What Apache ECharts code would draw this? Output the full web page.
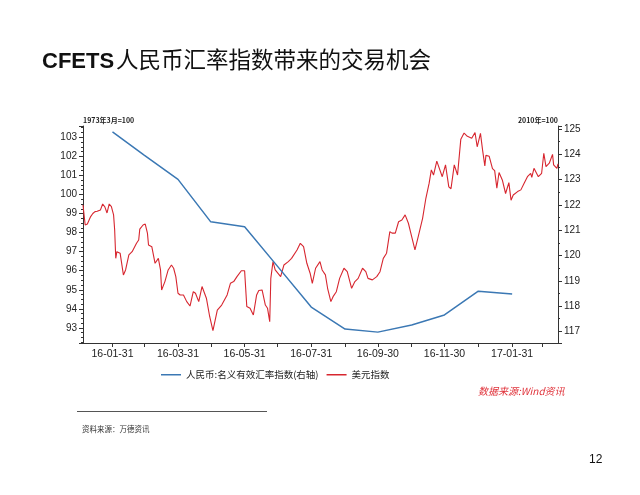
<!DOCTYPE html>
<html><head><meta charset="utf-8">
<script src="https://cdn.jsdelivr.net/npm/echarts@6/dist/echarts.min.js"></script>
<style>html,body{margin:0;padding:0;background:#fff}#c{width:640px;height:495px}</style>
</head><body><div id="c"></div>
<script>
// ---- data ----
const axisStart = '2016-01-04';
const axisEnd = '2017-03-14';
const usdDates = ['2016-01-04','2016-01-05','2016-01-06','2016-01-08','2016-01-11','2016-01-13','2016-01-15','2016-01-17','2016-01-20','2016-01-22','2016-01-24','2016-01-26','2016-01-28','2016-01-30','2016-02-01','2016-02-02','2016-02-03','2016-02-04','2016-02-07','2016-02-10','2016-02-12','2016-02-15','2016-02-18','2016-02-19','2016-02-22','2016-02-24','2016-02-25','2016-02-28','2016-03-01','2016-03-03','2016-03-04','2016-03-07','2016-03-10','2016-03-13','2016-03-15','2016-03-16','2016-03-19','2016-03-22','2016-03-25','2016-03-27','2016-03-29','2016-03-31','2016-04-02','2016-04-05','2016-04-08','2016-04-11','2016-04-14','2016-04-16','2016-04-19','2016-04-22','2016-04-26','2016-04-29','2016-05-02','2016-05-06','2016-05-10','2016-05-15','2016-05-18','2016-05-21','2016-05-24','2016-05-28','2016-05-31','2016-06-02','2016-06-05','2016-06-08','2016-06-11','2016-06-13','2016-06-16','2016-06-19','2016-06-21','2016-06-23','2016-06-24','2016-06-26','2016-06-28','2016-07-03','2016-07-06','2016-07-10','2016-07-13','2016-07-18','2016-07-21','2016-07-24','2016-07-27','2016-07-30','2016-08-01','2016-08-04','2016-08-08','2016-08-10','2016-08-13','2016-08-15','2016-08-18','2016-08-20','2016-08-23','2016-08-26','2016-08-30','2016-09-02','2016-09-06','2016-09-09','2016-09-12','2016-09-16','2016-09-19','2016-09-21','2016-09-25','2016-09-29','2016-10-02','2016-10-05','2016-10-08','2016-10-11','2016-10-13','2016-10-16','2016-10-19','2016-10-22','2016-10-25','2016-10-28','2016-10-31','2016-11-03','2016-11-06','2016-11-10','2016-11-13','2016-11-16','2016-11-18','2016-11-20','2016-11-23','2016-11-28','2016-12-01','2016-12-04','2016-12-06','2016-12-09','2016-12-12','2016-12-15','2016-12-18','2016-12-21','2016-12-25','2016-12-28','2016-12-30','2017-01-02','2017-01-04','2017-01-06','2017-01-07','2017-01-10','2017-01-13','2017-01-15','2017-01-17','2017-01-19','2017-01-22','2017-01-25','2017-01-28','2017-01-30','2017-02-01','2017-02-05','2017-02-08','2017-02-11','2017-02-14','2017-02-17','2017-02-18','2017-02-20','2017-02-24','2017-02-27','2017-03-01','2017-03-03','2017-03-06','2017-03-09','2017-03-10','2017-03-13','2017-03-14'];
const usdValues = [99.45,99.35,98.4,98.45,98.84,99.0,99.1,99.12,99.19,99.5,99.35,99.03,99.5,99.36,98.93,98.14,96.65,97.0,96.92,95.78,96.04,96.83,97.0,96.9,97.44,97.61,98.18,98.4,98.45,97.97,97.35,97.26,96.39,96.65,96.04,94.99,95.43,96.04,96.3,96.13,95.69,94.82,94.73,94.73,94.38,94.15,94.9,94.82,94.38,95.17,94.56,93.6,92.86,93.94,94.2,94.73,95.34,95.43,95.69,96.0,96.0,94.12,94.03,93.68,94.73,94.96,94.99,94.2,94.03,93.33,95.6,96.48,96.04,95.69,96.3,96.48,96.65,97.09,97.44,97.26,96.39,95.87,95.34,96.13,96.48,96.04,95.78,95.08,94.38,94.64,94.9,95.6,96.13,95.95,95.08,95.43,95.6,96.13,95.95,95.6,95.52,95.69,95.95,96.65,96.92,98.05,97.97,97.97,98.57,98.66,98.93,98.49,97.79,97.09,97.79,98.75,99.8,100.59,101.29,101.02,101.75,100.93,101.55,100.4,100.3,101.55,101.02,102.9,103.22,103.05,102.95,103.25,102.5,103.2,102.3,101.5,102.05,102.0,101.36,101.25,100.33,101.15,100.76,100.05,100.62,99.7,99.97,100.15,100.24,100.59,100.93,101.11,100.9,101.37,100.93,101.11,102.16,101.46,101.64,102.1,101.55,101.37,101.6];
const cnyDates = ['2016-01-31','2016-02-29','2016-03-31','2016-04-30','2016-05-31','2016-06-30','2016-07-31','2016-08-31','2016-09-30','2016-10-31','2016-11-30','2016-12-31','2017-01-31'];
const cnyValues = [124.89,123.97,123.01,121.33,121.14,119.58,117.96,117.09,116.97,117.25,117.65,118.59,118.48];
const seriesNames = ['人民币:名义有效汇率指数(右轴)', '美元指数'];
const leftAxisName = '1973年3月=100';
const rightAxisName = '2010年=100';
const leftRange = [92.21, 103.59];
const rightRange = [116.54, 125.12];

// ---- build axis categories (calendar days) ----
const categories = [];
(function(){
  const p = s => { const a = s.split('-').map(Number); return Date.UTC(a[0], a[1]-1, a[2]); };
  for (let t = p(axisStart); t <= p(axisEnd); t += 86400000) categories.push(new Date(t).toISOString().slice(0,10));
})();
function isMonthEnd(s){
  const a = s.split('-').map(Number);
  const n = new Date(Date.UTC(a[0], a[1]-1, a[2]) + 86400000);
  return n.getUTCMonth() !== a[1]-1;
}
function toSeries(dates, vals){
  const m = {}; dates.forEach((d,i)=>{ m[d] = vals[i]; });
  return categories.map(d => (d in m) ? m[d] : null);
}

const chart = echarts.init(document.getElementById('c'), null, {renderer:'canvas'});
const axisColor = '#333';
const labelFont = 'Liberation Sans, Arial, sans-serif';
chart.setOption({
  animation: false,
  backgroundColor: '#fff',
  grid: {left: 83, right: 82, top: 126, bottom: 152, containLabel: false},
  legend: {
    left: 156, top: 365, icon: 'rect', itemWidth: 20, itemHeight: 1.5, itemGap: 8,
    data: seriesNames,
    textStyle: {fontSize: 9.5, color: '#222', fontFamily: 'Noto Sans CJK SC'}
  },
  xAxis: {
    type: 'category', data: categories, boundaryGap: false,
    axisLine: {lineStyle: {color: axisColor, width: 1}},
    axisTick: {show: true, length: 4, interval: (i, v) => isMonthEnd(v), lineStyle: {color: axisColor}},
    axisLabel: {
      interval: (i, v) => isMonthEnd(v) && (Number(v.slice(5,7)) % 2 === 1),
      formatter: v => v.slice(2), fontSize: 10.5, color: '#222', fontFamily: labelFont, margin: 6
    },
    splitLine: {show: false}
  },
  yAxis: [
    {
      type: 'value', position: 'left', min: leftRange[0], max: leftRange[1], splitNumber: 11,
      name: leftAxisName, nameLocation: 'end', nameGap: 2,
      nameTextStyle: {fontSize: 7, color: '#222', align: 'left', fontFamily: 'Noto Sans CJK SC', fontWeight: 'bold'},
      axisLine: {show: true, lineStyle: {color: axisColor}},
      axisTick: {show: true, length: 4, lineStyle: {color: axisColor}},
      minorTick: {show: true, splitNumber: 4, length: 2, lineStyle: {color: axisColor}},
      axisLabel: {showMinLabel: false, showMaxLabel: false, formatter: v => Number.isInteger(v) ? String(v) : '', fontSize: 10, color: '#222', fontFamily: labelFont, margin: 6},
      splitLine: {show: false}
    },
    {
      type: 'value', position: 'right', min: rightRange[0], max: rightRange[1], splitNumber: 8,
      name: rightAxisName, nameLocation: 'end', nameGap: 2,
      nameTextStyle: {fontSize: 7, color: '#222', align: 'right', fontFamily: 'Noto Sans CJK SC', fontWeight: 'bold'},
      axisLine: {show: true, lineStyle: {color: axisColor}},
      axisTick: {show: true, length: 4, lineStyle: {color: axisColor}},
      minorTick: {show: true, splitNumber: 2, length: 2, lineStyle: {color: axisColor}},
      axisLabel: {showMinLabel: false, showMaxLabel: false, formatter: v => Number.isInteger(v) ? String(v) : '', fontSize: 10, color: '#222', fontFamily: labelFont, margin: 6},
      splitLine: {show: false}
    }
  ],
  series: [
    {
      name: seriesNames[0], type: 'line', yAxisIndex: 1, data: toSeries(cnyDates, cnyValues),
      connectNulls: true, symbol: 'none', lineStyle: {color: '#3b78b4', width: 1.5}, itemStyle: {color: '#3b78b4'}, z: 3
    },
    {
      name: seriesNames[1], type: 'line', yAxisIndex: 0, data: toSeries(usdDates, usdValues),
      connectNulls: true, symbol: 'none', lineStyle: {color: '#d7262f', width: 1.1}, itemStyle: {color: '#d7262f'}, z: 2
    }
  ],
  graphic: [
    {type: 'text', left: 42, top: 51, style: {text: 'CFETS', fontSize: 22, fontWeight: 'bold', fontFamily: 'Liberation Sans, Arial, sans-serif', fill: '#111'}},
    {type: 'text', left: 116, top: 48, style: {text: '人民币汇率指数带来的交易机会', fontSize: 22.5, fontFamily: 'Noto Sans CJK SC', fill: '#111'}},
    {type: 'text', left: 478, top: 386, style: {text: '数据来源:Wind资讯', fontSize: 10, fontStyle: 'italic', fill: '#e0323a', fontFamily: 'Noto Sans CJK SC, Liberation Sans'}},
    {type: 'line', shape: {x1: 77, y1: 411.5, x2: 267, y2: 411.5}, style: {stroke: '#555', lineWidth: 1}},
    {type: 'text', left: 82, top: 425, style: {text: '资料来源：万德资讯', fontSize: 7.5, fill: '#333', fontFamily: 'Noto Sans CJK SC'}},
    {type: 'text', left: 589, top: 454, style: {text: '12', fontSize: 12, fill: '#111', fontFamily: 'Liberation Sans, Arial, sans-serif'}}
  ]
});
</script></body></html>
